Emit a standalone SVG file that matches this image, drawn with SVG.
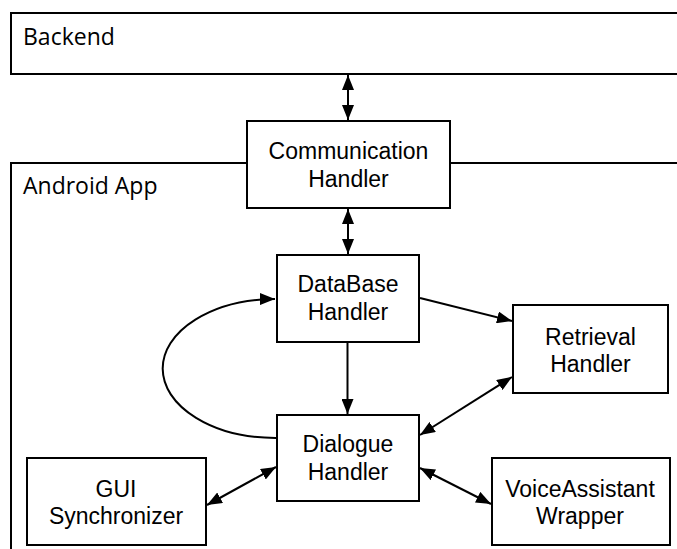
<svg xmlns="http://www.w3.org/2000/svg" width="677" height="549" viewBox="0 0 677 549">
  <style>
    .box { fill: #ffffff; stroke: #000000; stroke-width: 2; }
    .frame { fill: none; stroke: #000000; stroke-width: 2; }
    .lbl { font-family: "Liberation Sans", Arial, sans-serif; font-size: 23px; fill: #000000; text-anchor: middle; }
    .area { font-family: "Open Sans", "Liberation Sans", sans-serif; font-size: 23px; fill: #000000; }
    .edge { fill: none; stroke: #000000; stroke-width: 2; }
  </style>
  <defs>
    <marker id="head" viewBox="0 0 15 12" refX="15" refY="6" markerWidth="15" markerHeight="12" markerUnits="userSpaceOnUse" orient="auto-start-reverse">
      <path d="M0,0 L15,6 L0,12 Z" fill="#000000"/>
    </marker>
  </defs>

  <!-- Backend container (open to the right) -->
  <g id="backend">
    <path class="frame" d="M680,13 L11,13 L11,74 L680,74"/>
    <text class="area" x="23" y="45">Backend</text>
  </g>

  <!-- Android App container (open to the right and bottom) -->
  <g id="android-app">
    <path class="frame" d="M680,163 L11,163 L11,552"/>
    <text class="area" x="23" y="194">Android App</text>
  </g>

  <!-- Components -->
  <g id="communication-handler">
    <rect class="box" x="247" y="121" width="203" height="87"/>
    <text class="lbl" x="348.5" y="159">Communication</text>
    <text class="lbl" x="348.5" y="187">Handler</text>
  </g>

  <g id="database-handler">
    <rect class="box" x="277" y="255" width="142" height="87"/>
    <text class="lbl" x="348" y="292">DataBase</text>
    <text class="lbl" x="348" y="320">Handler</text>
  </g>

  <g id="retrieval-handler">
    <rect class="box" x="513" y="305" width="155" height="88"/>
    <text class="lbl" x="590.5" y="345">Retrieval</text>
    <text class="lbl" x="590.5" y="372">Handler</text>
  </g>

  <g id="dialogue-handler">
    <rect class="box" x="277" y="415" width="142" height="86"/>
    <text class="lbl" x="348" y="452">Dialogue</text>
    <text class="lbl" x="348" y="480">Handler</text>
  </g>

  <g id="gui-synchronizer">
    <rect class="box" x="27" y="458" width="179" height="87"/>
    <text class="lbl" x="116" y="497">GUI</text>
    <text class="lbl" x="116" y="524">Synchronizer</text>
  </g>

  <g id="voiceassistant-wrapper">
    <rect class="box" x="492" y="458" width="178" height="87"/>
    <text class="lbl" x="580" y="497">VoiceAssistant</text>
    <text class="lbl" x="580" y="524">Wrapper</text>
  </g>

  <!-- Connectors -->
  <g id="connectors">
    <line class="edge" x1="348" y1="75" x2="348" y2="120" marker-start="url(#head)" marker-end="url(#head)"/>
    <line class="edge" x1="348" y1="209" x2="348" y2="254" marker-start="url(#head)" marker-end="url(#head)"/>
    <line class="edge" x1="420" y1="298" x2="512" y2="321" marker-end="url(#head)"/>
    <line class="edge" x1="347.5" y1="343" x2="347.5" y2="414" marker-end="url(#head)"/>
    <line class="edge" x1="512" y1="377" x2="420" y2="435" marker-start="url(#head)" marker-end="url(#head)"/>
    <line class="edge" x1="207" y1="505" x2="276" y2="467" marker-start="url(#head)" marker-end="url(#head)"/>
    <line class="edge" x1="420" y1="468" x2="491" y2="504" marker-start="url(#head)" marker-end="url(#head)"/>
    <path class="edge" d="M276,438 A112,69 0 0 1 275,299" marker-end="url(#head)"/>
  </g>
</svg>
